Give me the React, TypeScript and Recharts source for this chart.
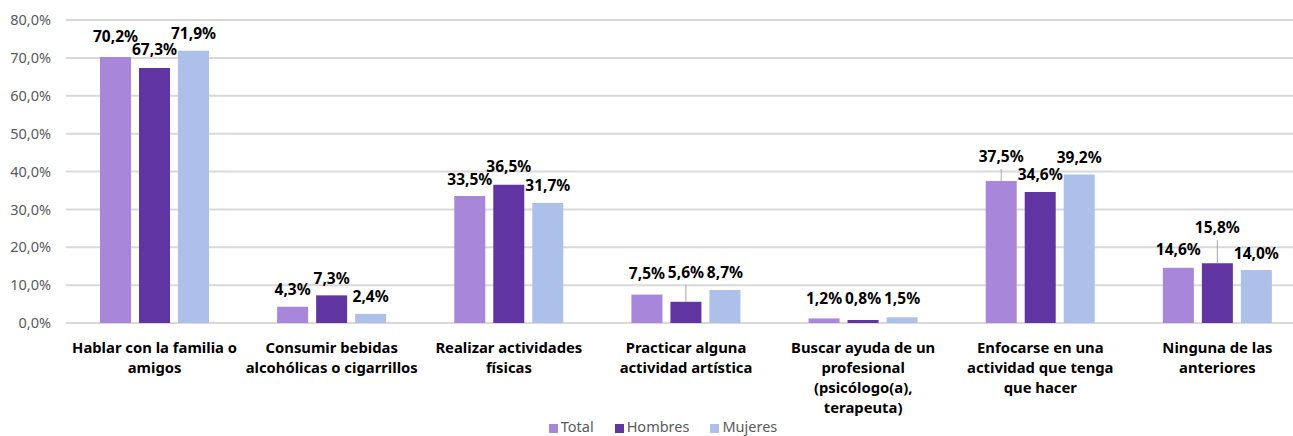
import { Bar, BarChart, CartesianGrid, Legend, XAxis, YAxis } from "recharts";

const CATEGORIES = [
  "Hablar con la familia o\namigos",
  "Consumir bebidas\nalcohólicas o cigarrillos",
  "Realizar actividades\nfísicas",
  "Practicar alguna\nactividad artística",
  "Buscar ayuda de un\nprofesional\n(psicólogo(a),\nterapeuta)",
  "Enfocarse en una\nactividad que tenga\nque hacer",
  "Ninguna de las\nanteriores",
];
const TOTAL = [70.2, 4.3, 33.5, 7.5, 1.2, 37.5, 14.6];
const HOMBRES = [67.3, 7.3, 36.5, 5.6, 0.8, 34.6, 15.8];
const MUJERES = [71.9, 2.4, 31.7, 8.7, 1.5, 39.2, 14.0];
const Y_TICKS = [0, 10, 20, 30, 40, 50, 60, 70, 80];
const SERIES_ORDER = ["Total", "Hombres", "Mujeres"];

// how far above the bar top each value label sits (Excel moved a few of them)
const LABEL_LIFT: Record<string, number[]> = {
  total: [20, 17, 16, 21, 19, 24, 18],
  hombres: [18, 16, 18, 29, 21, 17, 35],
  mujeres: [17, 17, 17, 17, 18, 17, 16],
};

const FONT = "'Segoe UI', 'Noto Sans', sans-serif";

const data = CATEGORIES.map((name, i) => ({
  name,
  total: TOTAL[i],
  hombres: HOMBRES[i],
  mujeres: MUJERES[i],
}));

const pct = (v: number) => `${v.toFixed(1).replace(".", ",")}%`;

function makeLabel(key: string) {
  return (props: any) => {
    const { x, y, width, value, index } = props;
    const cx = Number(x) + Number(width) / 2;
    const top = Number(y);
    const lift = LABEL_LIFT[key][index];
    return (
      <g key={`${key}-${index}`}>
        {lift > 22 && (
          <line x1={cx} x2={cx} y1={top - lift + 12} y2={top} stroke="#a6a6a6" strokeWidth={1} />
        )}
        <text
          x={cx}
          y={top - lift + 5}
          textAnchor="middle"
          fontFamily={FONT}
          fontSize={15.5}
          fontWeight="bold"
          fill="#000"
        >
          {pct(Number(value))}
        </text>
      </g>
    );
  };
}

const CategoryTick = ({ x, y, payload }: any) => {
  const lines = String(payload.value).split("\n");
  return (
    <text x={x} y={y} textAnchor="middle" fontFamily={FONT} fontSize={14.8} fontWeight="bold" fill="#000">
      {lines.map((l, i) => (
        <tspan key={i} x={x} dy={i === 0 ? 22 : 20}>
          {l}
        </tspan>
      ))}
    </text>
  );
};

export default function App() {
  return (
    <div
      style={{
        position: "absolute",
        left: 0,
        top: 0,
        width: 1293,
        height: 436,
        overflow: "hidden",
        background: "#fff",
      }}
    >
      <BarChart
        width={1306}
        height={436}
        data={data}
        margin={{ top: 20, right: 0, left: 0, bottom: 0 }}
        barGap={8}
        barCategoryGap={34}
      >
        <CartesianGrid vertical={false} stroke="#d9d9d9" strokeWidth={2} />
        <XAxis
          dataKey="name"
          axisLine={false}
          tickLine={false}
          interval={0}
          height={93}
          tick={<CategoryTick />}
        />
        <YAxis
          width={66}
          domain={[0, 80]}
          ticks={Y_TICKS}
          axisLine={false}
          tickLine={false}
          tickMargin={9}
          tickFormatter={(v) => pct(v)}
          tick={{ fill: "#595959", fontSize: 14.5, fontFamily: FONT }}
        />
        <Legend
          verticalAlign="bottom"
          iconType="square"
          iconSize={9}
          itemSorter={(item: any) => SERIES_ORDER.indexOf(String(item.value))}
          wrapperStyle={{ paddingLeft: 15 }}
          formatter={(value) => (
            <span
              style={{
                color: "#595959",
                fontFamily: FONT,
                fontSize: 14.5,
                marginLeft: -1,
                marginRight: value === "Mujeres" ? 0 : 11,
              }}
            >
              {value}
            </span>
          )}
        />
        <Bar dataKey="total" name="Total" fill="#a886da" isAnimationActive={false} label={makeLabel("total")} />
        <Bar dataKey="hombres" name="Hombres" fill="#6135a1" isAnimationActive={false} label={makeLabel("hombres")} />
        <Bar dataKey="mujeres" name="Mujeres" fill="#adc0ea" isAnimationActive={false} label={makeLabel("mujeres")} />
      </BarChart>
    </div>
  );
}
